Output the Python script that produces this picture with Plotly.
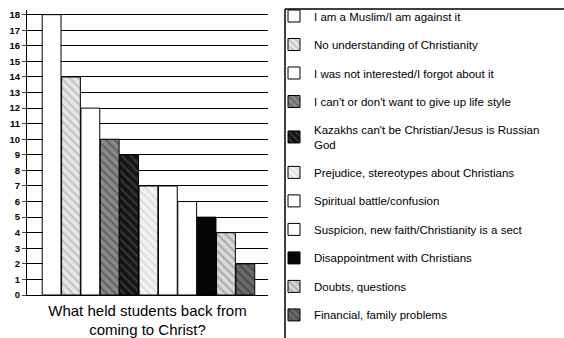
import plotly.graph_objects as go

categories = [
    "I am a Muslim/I am against it",
    "No understanding of Christianity",
    "I was not interested/I forgot about it",
    "I can't or don't want to give up life style",
    "Kazakhs can't be Christian/Jesus is Russian<br>God",
    "Prejudice, stereotypes about Christians",
    "Spiritual battle/confusion",
    "Suspicion, new faith/Christianity is a sect",
    "Disappointment with Christians",
    "Doubts, questions",
    "Financial, family problems",
]
values = [18, 14, 12, 10, 9, 7, 7, 6, 5, 4, 2]
y_ticks = list(range(0, 19))

fills = ["#ffffff", "#e6e6e6", "#ffffff", "#8a8a8a", "#141414", "#f2f2f2",
         "#ffffff", "#ffffff", "#050505", "#d9d9d9", "#6a6a6a"]
pattern_shapes = ["", "\\", "", "\\", "\\", "\\", "", "", "", "\\", "\\"]
pattern_colors = ["#000", "#9a9a9a", "#000", "#3a3a3a", "#5a5a5a", "#c8c8c8",
                  "#000", "#000", "#000", "#7a7a7a", "#2a2a2a"]

W, H = 564, 338
ML, MR, MT, MB = 27, 296, 10, 43
pw, ph = W - ML - MR, H - MT - MB


def px_to_paper_x(p):
    return (p - ML) / pw


def px_to_paper_y(p):
    return (H - MB - p) / ph


fig = go.Figure()
for i, (cat, val) in enumerate(zip(categories, values)):
    fig.add_trace(go.Bar(
        x=[i], y=[val], name=cat, width=0.97, legendgroup=f"g{i}",
        marker=dict(
            color=fills[i],
            line=dict(color="#000", width=1),
            pattern=dict(shape=pattern_shapes[i], fgcolor=pattern_colors[i],
                         bgcolor=fills[i], size=6, solidity=0.35),
        ),
    ))

# legend frame (left and top edges visible in the reference)
bx = px_to_paper_x(285)
by = px_to_paper_y(9)
fig.add_shape(type="line", xref="paper", yref="paper",
              x0=bx, x1=bx, y0=by, y1=px_to_paper_y(H + 2),
              line=dict(color="#000", width=1.5))
fig.add_shape(type="line", xref="paper", yref="paper",
              x0=bx, x1=px_to_paper_x(W + 2), y0=by, y1=by,
              line=dict(color="#000", width=1.5))

fig.update_layout(
    width=W, height=H,
    margin=dict(l=ML, r=MR, t=MT, b=MB, autoexpand=False),
    paper_bgcolor="white", plot_bgcolor="white",
    barmode="overlay",
    font=dict(family="Arial, Liberation Sans", color="#000"),
    xaxis=dict(range=[-1.27, 11.17], showticklabels=False, ticks="",
               showgrid=False, zeroline=False, showline=True,
               linecolor="#000", linewidth=1, automargin=False,
               title=dict(text="What held students back from<br>coming to Christ?",
                          font=dict(size=15, family="Arial, Liberation Sans"),
                          standoff=11)),
    yaxis=dict(range=[0, 18.3], tickvals=y_ticks, ticks="outside", ticklen=4,
               tickfont=dict(size=9.5, family="Arial, Liberation Sans",
                             weight="bold"), automargin=False,
               showgrid=True, gridcolor="#000", gridwidth=1,
               zeroline=False, showline=True, linecolor="#000", linewidth=1),
    legend=dict(
        xref="paper", yref="paper", x=px_to_paper_x(274), y=px_to_paper_y(1.5),
        xanchor="left", yanchor="top",
        borderwidth=0, bgcolor="rgba(0,0,0,0)",
        font=dict(size=11.5, family="Arial, Liberation Sans"),
        tracegroupgap=9.5, itemwidth=30, maxheight=H,
    ),
    showlegend=True,
)

fig.write_html("out.html")
